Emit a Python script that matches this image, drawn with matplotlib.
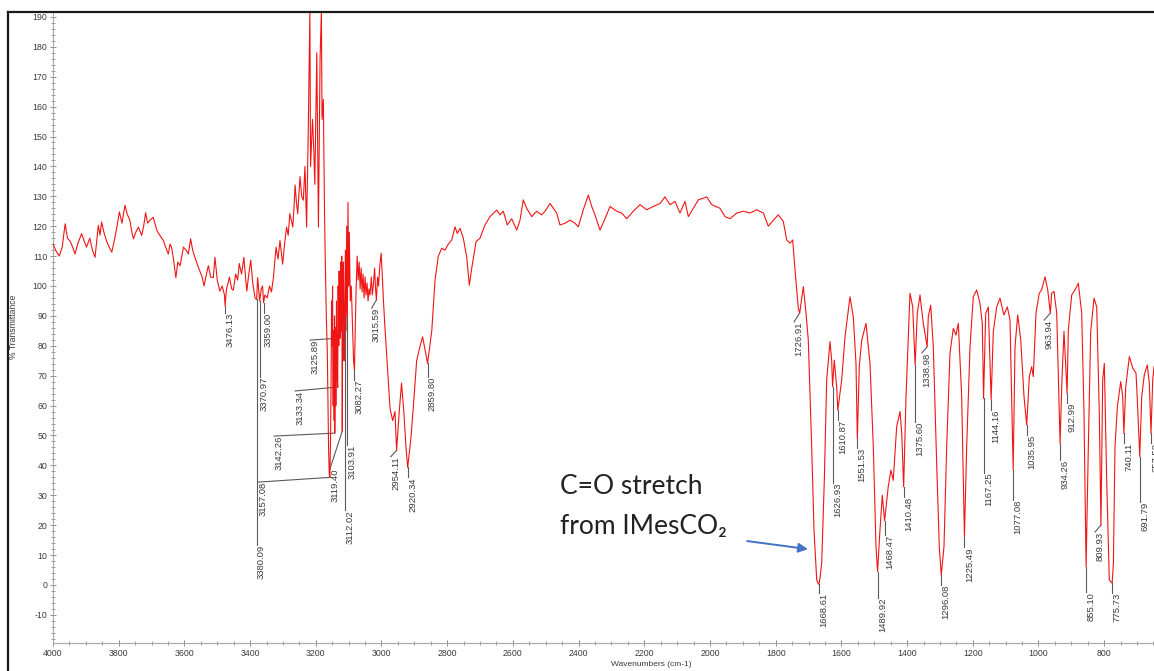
import matplotlib
matplotlib.use("Agg")
import matplotlib.pyplot as plt
from matplotlib.lines import Line2D
from matplotlib.ticker import MultipleLocator

# spectrum (wavenumber cm-1, %T)
wavenumber = [
    4000, 3992, 3981, 3972, 3963, 3956, 3948, 3940, 3933, 3925, 3913, 3905, 3898, 3888, 3880,
    3872, 3862, 3857, 3852, 3845, 3837, 3829, 3821, 3812, 3805, 3798, 3790, 3781, 3774, 3766,
    3760, 3755, 3748, 3740, 3730, 3724, 3718, 3712, 3705, 3695, 3690, 3684, 3675, 3664, 3657,
    3649, 3644, 3639, 3632, 3626, 3620, 3613, 3608, 3603, 3595, 3588, 3581, 3575, 3568, 3560,
    3553, 3546, 3540, 3533, 3527, 3520, 3512, 3507, 3500, 3492, 3485, 3478, 3476.13, 3472, 3467,
    3463, 3456, 3451, 3444, 3438, 3433, 3426, 3419, 3414, 3410, 3404, 3398, 3392, 3385, 3380.09,
    3377, 3370.97, 3366, 3362, 3359.0, 3355, 3348, 3341, 3335, 3329,
    3321, 3315, 3309, 3301, 3295, 3289, 3284, 3279, 3270, 3266, 3263, 3259, 3255, 3248, 3243,
    3238, 3233, 3228, 3223, 3218, 3216, 3210, 3206, 3203, 3197, 3192, 3187, 3183, 3181, 3177,
    3174, 3172,
    3168, 3165, 3163, 3161, 3159, 3157.08, 3155, 3153, 3152, 3150, 3149, 3147, 3146, 3144, 3143,
    3142.26, 3140, 3139, 3137, 3135, 3133.34, 3132, 3130, 3129, 3127.5, 3125.89, 3124, 3122.5, 3121, 3119.4,
    3118, 3116, 3114, 3112.02, 3110, 3108, 3106, 3103.91, 3102, 3100, 3098, 3095, 3092, 3088, 3085,
    3082.27, 3080, 3077, 3074, 3071, 3068, 3065, 3062, 3059, 3056, 3053, 3050, 3047, 3044, 3041,
    3038, 3035, 3031, 3028, 3025, 3021, 3018, 3015.59, 3012, 3009, 3005, 3001, 2998, 2994, 2990,
    2986, 2980, 2974, 2966, 2959, 2954.11, 2946, 2939, 2932, 2926, 2920.34, 2911, 2903, 2893, 2883,
    2875, 2864.5, 2859.8, 2847, 2837, 2827,
    2816.7, 2806.7, 2796.7, 2786.3, 2776.3, 2769.3, 2761, 2751, 2740.7, 2732.7, 2724.5, 2712.3, 2700.2,
    2685, 2669.7, 2649.3, 2639.3, 2629.2, 2617, 2603.7, 2588.4, 2578.4, 2568.4, 2558, 2542.8, 2527.6,
    2512.4, 2502.3, 2487, 2477, 2466.7, 2456.6, 2441.4, 2426.2, 2411, 2400.9, 2385.7, 2370.5, 2360.1,
    2350.1, 2334.9, 2319.6, 2304.4, 2284, 2268.8, 2253.6, 2233.5, 2213.1, 2192.7, 2172.6, 2152.2, 2137,
    2121.8, 2106.5, 2091.3, 2076.1, 2066, 2050.8, 2035.6, 2010, 1994.8, 1969.6, 1954.3, 1939.1, 1918.7,
    1898.6, 1878.2, 1857.8, 1837.7, 1822.5, 1807.3, 1792.1, 1776.9, 1766.5, 1756.5, 1748.3, 1741.2,
    1731.2, 1726.91, 1716, 1707.8, 1700.8, 1690.4, 1683.4, 1675.2, 1672, 1668.61, 1665, 1660, 1652,
    1644.8, 1634.7, 1629.6, 1626.93, 1621.7, 1614.4, 1610.87, 1599.1, 1589, 1573.8, 1563.8, 1555.6,
    1551.53, 1545.5, 1538.3, 1525.1, 1512.9, 1502.9, 1494.7, 1489.92, 1482.6, 1475.5, 1468.47, 1457.4,
    1449.3, 1442.2, 1431.7, 1421.6, 1416.4, 1410.48, 1403.3, 1391.2, 1382.9, 1375.6, 1368.9, 1360.7,
    1350.7, 1338.98, 1335.5, 1328.2, 1320.2, 1310, 1302, 1296.08, 1287.7, 1279.5, 1269.4, 1259.4,
    1251.2, 1244.1, 1233.8, 1225.49, 1218.6, 1208.5, 1198.5, 1188.2, 1178.1, 1171.1, 1167.25, 1160.7,
    1152.8, 1144.16, 1137.6, 1127.3, 1117.2, 1105.3, 1094.9, 1086.7, 1077.08, 1071.5, 1063.3, 1054.1,
    1044.1, 1035.95, 1027.9, 1020.7, 1015.8, 1007.6, 997.6, 990.3, 980.2, 972, 963.94, 959.9, 952.9,
    944.6, 934.26, 928.6, 922.4, 912.99, 909.2, 898.9, 888.9, 878.8, 868.5, 861.5, 855.1, 848.3, 841.1,
    831, 822.8, 814.9, 809.93, 804.6, 799.6, 792.4, 784.5, 775.73, 772, 767.1, 760, 749.8, 743.7,
    740.11, 734.4, 723.5, 713.1, 703.2, 699.2, 691.79, 685.8, 677.9, 668.8, 662.7, 657.5, 652.3,
    648.4, 640,
]
transmittance = [
    114, 112, 110, 113, 120.8, 116, 115, 113, 110.7, 114, 117.5, 115, 113, 116, 112,
    109.6, 120.3, 117, 121.4, 118, 115, 113, 111.3, 116, 120, 124.8, 121, 127, 124, 122,
    118, 115.8, 118, 119.7, 116.9, 120, 124.5, 121, 122, 123, 121, 118.6, 117, 115.2, 113,
    110.7, 114, 113, 108, 102.8, 108, 106.8, 110, 113, 112, 110.7, 115.8, 112, 109.6, 107,
    105, 103, 100, 104, 106.8, 103, 102.8, 109.6, 102, 98.3, 100, 97, 93.3, 99, 101,
    103, 99, 98.6, 104, 102, 107.5, 104, 109.6, 103, 98.3, 104, 108.7, 101, 96, 95.5,
    102.8, 95, 99, 100, 94.4, 97, 96, 100, 98, 102.8,
    113, 109, 115.2, 107.3, 114, 119.7, 117, 124.2, 119.7, 127, 133.8, 128, 124.2, 136.6, 130,
    128.7, 140, 119.7, 151.2, 192, 140, 155.7, 145, 134, 178, 119.7, 176, 192, 155.7, 162.4,
    130, 114,
    90, 78, 60, 45, 37, 36, 50, 75, 95, 80, 100, 60, 85, 55, 90,
    50.8, 86, 60, 95, 70, 66.2, 100, 80, 105, 88, 82.6, 108, 85, 110, 51.5,
    95, 108, 75, 90, 112, 85, 120, 90, 128, 100, 118, 95, 100, 85, 75,
    72, 85, 100, 110, 102, 108, 99, 106, 98, 104, 96, 103, 97, 101, 95,
    99, 97, 103, 97, 100, 106, 99, 95.3, 103, 100, 107, 111, 104, 95, 87,
    80, 69, 59, 55, 58, 45, 58, 67.5, 58, 47, 39.3, 48.5, 59.6, 75, 79.7,
    83, 77, 74.1, 85, 102, 110,
    112.6, 112, 114, 115.4, 119.8, 117.6, 119.3, 116, 109.8, 100.3, 106.5, 114.8, 116,
    120.4, 123.2, 125.4, 123.8, 125, 120.4, 122.5, 118.7, 122, 128.8, 126, 123.2, 125,
    123.8, 125, 127.6, 126, 124.4, 120.4, 121, 122, 121, 119.8, 125.5, 130.4, 126.6,
    123.8, 118.7, 122.5, 126.6, 125, 124.4, 122.5, 125, 127.2, 125.5, 126.6, 127.6, 129.8,
    127.2, 128.3, 124.4, 128.3, 123.2, 126, 128.8, 129.8, 127.2, 126, 123.2, 122.5, 124.4,
    125, 124.4, 125.5, 124.4, 120, 122, 123.8, 121.6, 115.4, 114.3, 115.4, 105.4,
    92.5, 91, 99.8, 91, 82, 46, 18.4, 1.7, 0.8, 0.2, 2.5, 7.3, 35,
    68.6, 81.4, 75.2, 66.3, 75.2, 66.3, 58.5, 68.6, 83, 96.4, 89.7, 74.1,
    49, 73, 81.8, 87.5, 74, 46.3, 12.8, 4.5, 18.4, 30, 21.5, 32.9,
    38.4, 35, 53, 58, 50.7, 32.9, 63, 97.6, 93, 73.6, 91, 97,
    87.5, 79.7, 89.7, 93.6, 79.7, 40.7, 12.8, 3.3, 12.8, 46.3, 77.5, 85.8,
    83.6, 87.5, 63, 16.2, 46.3, 79.7, 96.4, 98.7, 94.2, 87.5, 62.4, 90.8,
    93, 61.9, 84.7, 93, 95.9, 90.3, 93, 88.6, 38.5, 79.7, 90.3, 81.9,
    63, 53.5, 69.7, 73, 69.7, 91, 97.6, 98.7, 103.1, 98.7, 90.9, 97.6, 98.2,
    91, 47.4, 68.6, 84.8, 64.1, 85.3, 97, 98.7, 100.9, 91, 57.5, 6.1, 46.3, 84.8,
    95.9, 93, 57.5, 20, 68.6, 74.1, 35, 1.7, 0.6, 7.3, 46.3, 59.6, 68, 63,
    50.7, 66.3, 76.4, 72.5, 70.9, 62, 42.9, 63, 70.3, 73.6, 67.5, 50.7, 68.6,
    73, 75,
]

# labelled peaks
peak_names = ["3476.13", "3380.09", "3370.97", "3359.00", "3157.08", "3142.26", "3133.34",
              "3125.89", "3119.40", "3112.02", "3103.91", "3082.27", "3015.59", "2954.11",
              "2920.34", "2859.80", "1726.91", "1668.61", "1626.93", "1610.87", "1551.53",
              "1489.92", "1468.47", "1410.48", "1375.60", "1338.98", "1296.08", "1225.49",
              "1167.25", "1144.16", "1077.08", "1035.95", "963.94", "934.26", "912.99",
              "855.10", "809.93", "775.73", "740.11", "691.79", "657.50"]
peak_wn = [3476.13, 3380.09, 3370.97, 3359.00, 3157.08, 3142.26, 3133.34,
           3125.89, 3119.40, 3112.02, 3103.91, 3082.27, 3015.59, 2954.11,
           2920.34, 2859.80, 1726.91, 1668.61, 1626.93, 1610.87, 1551.53,
           1489.92, 1468.47, 1410.48, 1375.60, 1338.98, 1296.08, 1225.49,
           1167.25, 1144.16, 1077.08, 1035.95, 963.94, 934.26, 912.99,
           855.10, 809.93, 775.73, 740.11, 691.79, 657.50]
peak_tr = [93.3, 95.5, 95.0, 94.4, 36.0, 50.8, 66.2,
           82.6, 51.5, 90.0, 90.0, 72.0, 95.3, 45.0,
           39.3, 74.1, 91.0, 0.2, 66.3, 58.5, 49.0,
           4.5, 21.5, 32.9, 73.6, 79.7, 3.3, 16.2,
           62.4, 61.9, 38.5, 53.5, 90.9, 47.4, 64.1,
           6.1, 20.0, 0.6, 50.7, 42.9, 50.7]

# where each label's leader line ends (layout)
label_wn = [3476.13, 3380.09, 3370.97, 3359.00, 3376.0, 3327.0, 3263.0,
            3217.6, 3157.0, 3112.02, 3103.91, 3082.27, 3030.0, 2972.0,
            2920.34, 2859.80, 1744.0, 1668.61, 1626.93, 1610.87, 1551.53,
            1489.92, 1468.47, 1410.48, 1375.60, 1355.0, 1296.08, 1225.49,
            1167.25, 1144.16, 1077.08, 1035.95, 983.0, 934.26, 912.99,
            855.10, 828.0, 775.73, 740.11, 691.79, 657.50]
label_tr = [91.0, 13.4, 69.6, 91.0, 34.4, 49.8, 64.9,
            81.9, 38.8, 25.1, 46.8, 68.6, 92.6, 42.9,
            36.1, 69.6, 88.0, -2.7, 34.1, 55.2, 45.8,
            -4.3, 16.7, 29.4, 54.5, 77.6, 0.0, 12.7,
            37.5, 58.5, 28.4, 50.2, 88.6, 41.8, 60.9,
            -2.3, 17.7, -2.7, 47.5, 27.8, 47.5]

plt.rcParams['font.family'] = ['Liberation Sans', 'DejaVu Sans']
plt.rcParams['axes.unicode_minus'] = False

W, H = 1154, 671
fig = plt.figure(figsize=(W / 100, H / 100), dpi=100)
ax = fig.add_axes([53 / W, 28 / H, 1 - 53 / W, (643 - 12) / H])

ax.plot(wavenumber, transmittance, color='#f01515', lw=0.8, zorder=3)

for name, pw, pt, lw_, lt in zip(peak_names, peak_wn, peak_tr, label_wn, label_tr):
    ax.plot([pw, lw_], [pt, lt], color='#5a5a5a', lw=0.8, zorder=2)
    ax.annotate(name, xy=(lw_, lt), xytext=(0.3, 0), textcoords='offset points',
                rotation=90, ha='left', va='top', fontsize=6.8, color='#3a3a3a',
                annotation_clip=False)

ax.set_xlim(4000, 648.4)
ax.set_ylim(-19.4, 191.64)

ax.xaxis.set_major_locator(MultipleLocator(200))
ax.xaxis.set_minor_locator(MultipleLocator(50))
ax.yaxis.set_major_locator(MultipleLocator(10))
ax.yaxis.set_minor_locator(MultipleLocator(2))
ax.tick_params(which='major', direction='inout', length=5, width=0.7, color='#8a8a8a',
               labelsize=6.3, labelcolor='#3a3a3a', pad=1.5)
ax.tick_params(which='minor', direction='inout', length=2.5, width=0.6, color='#8a8a8a')

for s in ['top', 'right']:
    ax.spines[s].set_visible(False)
for s in ['left', 'bottom']:
    ax.spines[s].set_color('#a8a8a8')
    ax.spines[s].set_linewidth(0.8)

fig.text(651 / W, 1 - 664 / H, 'Wavenumbers (cm-1)', ha='center', va='center',
         fontsize=6, color='#3a3a3a')
fig.text(14 / W, 1 - 327 / H, '% Transmittance', ha='center', va='center',
         rotation=90, fontsize=6.2, color='#3a3a3a')

# outer frame
fig.add_artist(Line2D([8 / W, 8 / W], [0, 1 - 11.5 / H], transform=fig.transFigure,
                      color='#1a1a1a', lw=1.6))
fig.add_artist(Line2D([8 / W, 1], [1 - 11.5 / H, 1 - 11.5 / H], transform=fig.transFigure,
                      color='#1a1a1a', lw=1.6))

# C=O note
ax.text(2456, 30.4, 'C=O stretch', family=['Lato', 'DejaVu Sans'], fontsize=19,
        color='#222222', va='baseline', ha='left')
ax.text(2456, 17.1, 'from IMesCO\u2082', family=['Lato', 'DejaVu Sans'], fontsize=19,
        color='#222222', va='baseline', ha='left')
ax.annotate('', xy=(1701.7, 12.0), xytext=(1887, 14.7),
            arrowprops=dict(arrowstyle='-|>', color='#4472C4', lw=1.4,
                            mutation_scale=14, shrinkA=0, shrinkB=0))

fig.savefig('out.png', dpi=100)
